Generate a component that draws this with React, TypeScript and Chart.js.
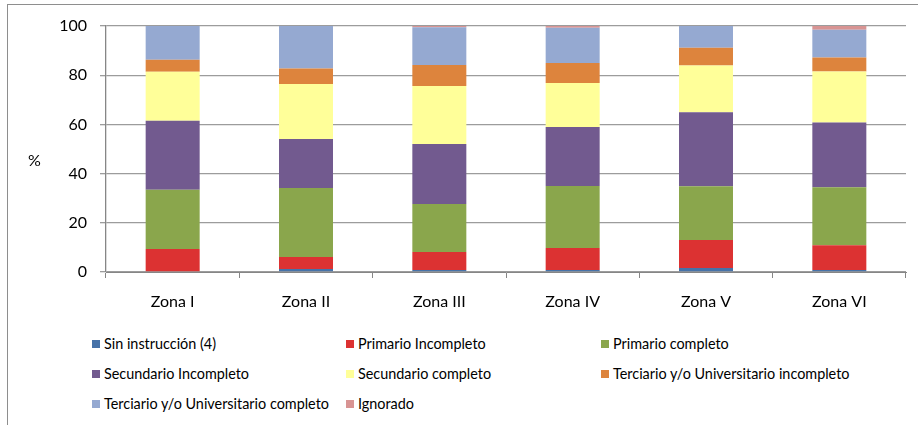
import React, { useEffect, useRef } from "react";
import { Chart, registerables } from "chart.js";

Chart.register(...registerables);

const categories = ["Zona I", "Zona II", "Zona III", "Zona IV", "Zona V", "Zona VI"];
const seriesNames = [
  "Sin instrucción (4)",
  "Primario Incompleto",
  "Primario completo",
  "Secundario Incompleto",
  "Secundario completo",
  "Terciario y/o Universitario incompleto",
  "Terciario y/o Universitario completo",
  "Ignorado",
];
const sinInstruccion = [0, 1.2, 0.8, 0.8, 1.6, 0.8];
const primarioIncompleto = [9.4, 4.9, 7.3, 9.0, 11.4, 10.1];
const primarioCompleto = [24.0, 28.0, 19.5, 25.2, 21.9, 23.6];
const secundarioIncompleto = [28.1, 20.0, 24.4, 23.9, 30.0, 26.3];
const secundarioCompleto = [19.9, 22.3, 23.6, 17.9, 19.0, 20.7];
const terciarioIncompleto = [4.9, 6.3, 8.5, 8.2, 7.3, 5.7];
const terciarioCompleto = [13.7, 17.3, 15.4, 14.3, 8.8, 11.3];
const ignorado = [0, 0, 0.5, 0.7, 0, 1.5];
const yTicks = [0, 20, 40, 60, 80, 100];

const seriesValues = [
  sinInstruccion,
  primarioIncompleto,
  primarioCompleto,
  secundarioIncompleto,
  secundarioCompleto,
  terciarioIncompleto,
  terciarioCompleto,
  ignorado,
];
const colors = ["#4672A8", "#DC3232", "#8AA64C", "#725A8F", "#FFFF99", "#DD843D", "#95A9D1", "#D89493"];

const FONT = "Lato, 'Open Sans', sans-serif";

export default function App() {
  const ref = useRef<HTMLCanvasElement | null>(null);

  useEffect(() => {
    if (!ref.current) return;
    const chart = new Chart(ref.current, {
      type: "bar",
      data: {
        labels: categories,
        datasets: seriesValues.map((vals, i) => ({
          label: seriesNames[i],
          data: vals,
          backgroundColor: colors[i],
          borderWidth: 0,
          barPercentage: 0.405,
          categoryPercentage: 1,
        })),
      },
      options: {
        animation: false,
        responsive: false,
        maintainAspectRatio: false,
        layout: { padding: { top: 26, right: 12, left: 0, bottom: 0 } },
        plugins: { legend: { display: false }, tooltip: { enabled: false }, title: { display: false } },
        scales: {
          x: {
            stacked: true,
            afterFit: (s: any) => {
              s.height = 48;
            },
            grid: { drawOnChartArea: false, drawTicks: true, tickLength: 6, color: "#868686", offset: true },
            border: { display: true, color: "#868686", width: 1 },
            ticks: { color: "#000", font: { family: FONT, size: 16 }, padding: 14 },
          },
          y: {
            stacked: true,
            min: 0,
            max: 100,
            afterFit: (s: any) => {
              s.width = 106;
            },
            afterBuildTicks: (s: any) => {
              s.ticks = yTicks.map((v) => ({ value: v }));
            },
            grid: { color: "#9c9c9c", lineWidth: 1.3, drawTicks: true, tickLength: 6 },
            border: { display: true, color: "#868686", width: 1.3 },
            ticks: { color: "#000", font: { family: FONT, size: 16 }, padding: 13 },
          },
        },
      },
    });
    return () => chart.destroy();
  }, []);

  const colX = [92, 346, 601];
  const rowY = [343.5, 373.5, 403.5];

  return (
    <div style={{ position: "absolute", left: 0, top: 0, width: 918, height: 425, overflow: "hidden", background: "#fff" }}>
      <div
        style={{
          position: "absolute",
          left: 7,
          top: 4,
          width: 940,
          height: 460,
          border: "1px solid #8e8e8e",
          boxSizing: "border-box",
        }}
      />
      <canvas ref={ref} width={918} height={320} style={{ position: "absolute", left: 0, top: 0, width: 918, height: 320 }} />
      <div style={{ position: "absolute", left: 28, top: 150, fontFamily: FONT, fontSize: 16, color: "#000", lineHeight: "20px" }}>%</div>
      {seriesNames.map((name, i) => {
        const col = i % 3;
        const row = Math.floor(i / 3);
        return (
          <div
            key={name}
            style={{
              position: "absolute",
              left: colX[col],
              top: rowY[row] - 9,
              height: 18,
              display: "flex",
              alignItems: "center",
              fontFamily: FONT,
              fontSize: 14.4,
              color: "#000",
              whiteSpace: "nowrap",
            }}
          >
            <span style={{ display: "inline-block", width: 8, height: 8, background: colors[i], marginRight: 4 }} />
            <span>{name}</span>
          </div>
        );
      })}
    </div>
  );
}
